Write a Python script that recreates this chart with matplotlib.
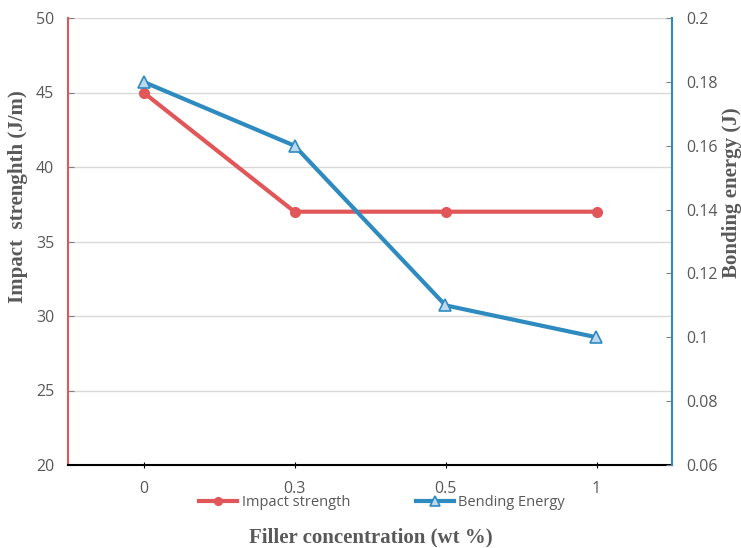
import matplotlib
matplotlib.use("Agg")
import matplotlib.pyplot as plt
from matplotlib.ticker import MultipleLocator

# ----- Data -----
categories = ["0", "0.3", "0.5", "1"]
impact_strength = [45, 37, 37, 37]
bending_energy = [0.18, 0.16, 0.11, 0.10]

red = "#E15759"
blue = "#2E8BC0"
grey_txt = "#595959"
serif = ["Liberation Serif", "DejaVu Serif"]
sans = ["Open Sans", "DejaVu Sans"]

fig = plt.figure(figsize=(7.41, 5.48), dpi=100)
ax = fig.add_axes([68 / 741, 83 / 548, 604 / 741, 447 / 548])
ax2 = ax.twinx()

x = list(range(len(categories)))
l1, = ax.plot(x, impact_strength, color=red, lw=3, marker="o", ms=7,
              mfc=red, mec=red, label="Impact strength", zorder=3)
l2, = ax2.plot(x, bending_energy, color=blue, lw=3, marker="^", ms=9,
               mfc="#BDD7EE", mec=blue, mew=1.2, label="Bending Energy", zorder=3)

ax.set_xlim(-0.5, 3.5)
ax.set_ylim(20, 50)
ax2.set_ylim(0.06, 0.2)
ax.yaxis.set_major_locator(MultipleLocator(5))
ax2.yaxis.set_major_locator(MultipleLocator(0.02))
ax.set_xticks(x)
ax.set_xticklabels(categories)
ax2.set_yticklabels([f"{v:g}" for v in ax2.get_yticks()])

ax.grid(axis="y", color="#D9D9D9", lw=1)
ax.set_axisbelow(True)

for a in (ax, ax2):
    a.spines["top"].set_visible(False)
ax.spines["left"].set_color(red)
ax.spines["left"].set_linewidth(1.5)
ax2.spines["right"].set_color(blue)
ax2.spines["right"].set_linewidth(1.5)
ax2.spines["left"].set_visible(False)
ax2.spines["bottom"].set_visible(False)
ax.spines["right"].set_visible(False)
ax.spines["bottom"].set_color("black")
ax.spines["bottom"].set_linewidth(1.5)

ax.tick_params(axis="y", direction="in", length=4, color="#808080",
               labelsize=11.5, labelcolor=grey_txt, pad=10)
ax2.tick_params(axis="y", direction="in", length=4, color="#808080",
                labelsize=11.5, labelcolor=grey_txt, pad=10)
ax.tick_params(axis="x", direction="inout", length=5, color="black",
               labelsize=11.5, labelcolor=grey_txt, pad=9)
for lab in ax.get_yticklabels() + ax.get_xticklabels() + ax2.get_yticklabels():
    lab.set_family(sans)

ax.set_ylabel("Impact  strenghth (J/m)", family=serif, fontsize=15,
              fontweight="bold", color=grey_txt)
ax.yaxis.set_label_coords(-0.066, 0.6)
ax2.set_ylabel("Bonding energy (J)", family=serif, fontsize=15,
               fontweight="bold", color=grey_txt, rotation=90)
ax2.yaxis.set_label_coords(1.082, 0.61)
fig.text(0.5, 6 / 548, "Filler concentration (wt %)", family=serif, fontsize=15,
         fontweight="bold", color=grey_txt, ha="center", va="baseline")

leg = fig.legend(handles=[l1, l2], loc="center", bbox_to_anchor=(382 / 741, 1 - 503 / 548),
                 ncol=2, frameon=False, handlelength=2.6, columnspacing=4.5,
                 handletextpad=0.3, prop={"family": sans, "size": 10.5},
                 labelcolor=grey_txt, markerscale=0.8)

fig.savefig("out.png", dpi=100)
